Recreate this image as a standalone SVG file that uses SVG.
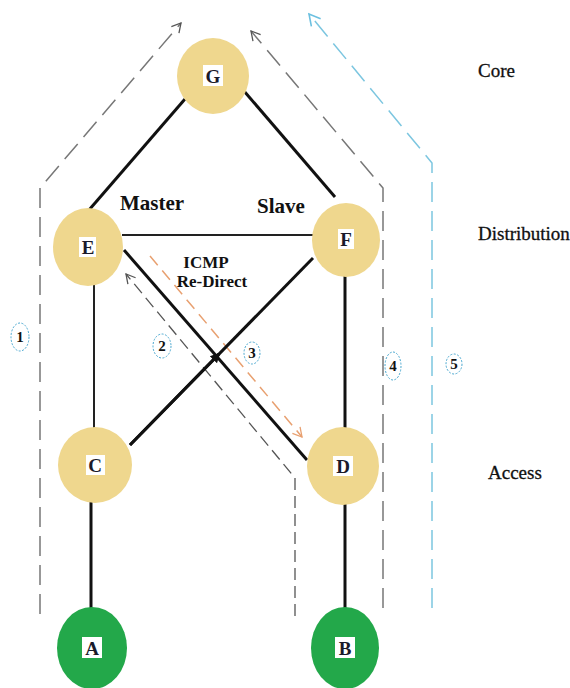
<svg xmlns="http://www.w3.org/2000/svg" width="570" height="688" viewBox="0 0 570 688">
<style>
.yel{fill:#EFD78E}
.grn{fill:#23A84A}
.lbl{font-family:"Liberation Serif",serif;font-weight:bold;font-size:19px;fill:#1a1a2a;text-anchor:middle}
.box{fill:#fff}
.edge{stroke:#111;stroke-width:3;fill:none}
.thin{stroke:#222;stroke-width:2;fill:none}
.gd{stroke:#777;stroke-width:1.5;fill:none;stroke-dasharray:20 9}
.bd{stroke:#7cc6e0;stroke-width:1.5;fill:none;stroke-dasharray:20 9}
.od{stroke:#e8a070;stroke-width:1.5;fill:none;stroke-dasharray:12 7}
.kd{stroke:#555;stroke-width:1.3;fill:none;stroke-dasharray:12 6}
.t{font-family:"Liberation Serif",serif;font-weight:bold;fill:#111}
.side{font-family:"Liberation Serif",serif;font-size:19px;fill:#111;stroke:#111;stroke-width:0.3}
.num{stroke:#4aa8d0;stroke-width:1;fill:none;stroke-dasharray:2 1.5}
.nt{font-family:"Liberation Serif",serif;font-weight:bold;font-size:15px;fill:#111;text-anchor:middle}
</style>
<defs>
<marker id="ag" markerWidth="12" markerHeight="12" refX="10" refY="6" orient="auto" markerUnits="userSpaceOnUse">
<path d="M1,1 L10,6 L1,11" stroke="#555" stroke-width="1.3" fill="none"/>
</marker>
<marker id="ab" markerWidth="14" markerHeight="14" refX="12" refY="7" orient="auto" markerUnits="userSpaceOnUse">
<path d="M1,1 L12,7 L1,13" stroke="#6cc0e0" stroke-width="1.6" fill="none"/>
</marker>
<marker id="ao" markerWidth="12" markerHeight="12" refX="10" refY="6" orient="auto" markerUnits="userSpaceOnUse">
<path d="M1,1 L10,6 L1,11" stroke="#e8a070" stroke-width="1.3" fill="none"/>
</marker>
<marker id="af" markerWidth="12" markerHeight="12" refX="8" refY="6" orient="auto" markerUnits="userSpaceOnUse">
<path d="M0,1 L10,6 L0,11 Z" fill="#111"/>
</marker>
</defs>

<g id="connectors">
<path class="gd" d="M40,614 L40,188 L181,23" marker-end="url(#ag)"/>
<path class="gd" d="M383,608 L383,188 L251,31" marker-end="url(#ag)"/>
<path class="bd" d="M432,608 L432,163 L309,14" marker-end="url(#ab)"/>
<path class="kd" d="M295,616 L295,478 L126,274" marker-end="url(#ag)"/>
<path class="od" d="M150,256 L302,437" marker-end="url(#ao)"/>
<line class="edge" x1="185" y1="99" x2="89" y2="210"/>
<line class="edge" x1="244" y1="91" x2="335" y2="197"/>
<line class="thin" x1="122" y1="235" x2="313" y2="235"/>
<line class="edge" x1="124" y1="250" x2="307" y2="460"/>
<line class="edge" x1="130" y1="445" x2="313" y2="258"/>
<line class="edge" x1="130" y1="445" x2="219" y2="354" marker-end="url(#af)"/>
<line class="thin" x1="94" y1="284" x2="94" y2="428"/>
<line class="edge" x1="345" y1="272" x2="345" y2="428"/>
<line class="edge" x1="91" y1="502" x2="91" y2="608"/>
<line class="edge" x1="345" y1="504" x2="345" y2="608"/>
</g>

<g id="node-G"><ellipse class="yel" cx="213" cy="76" rx="36" ry="38"/><rect class="box" x="203" y="65" width="20" height="21"/><text class="lbl" x="213" y="83">G</text></g>
<g id="node-E"><ellipse class="yel" cx="88" cy="247" rx="35" ry="39"/><rect class="box" x="79" y="237" width="17" height="20"/><text class="lbl" x="88" y="254">E</text></g>
<g id="node-F"><ellipse class="yel" cx="346" cy="240" rx="34" ry="37"/><rect class="box" x="338" y="229" width="16" height="20"/><text class="lbl" x="346" y="246">F</text></g>
<g id="node-C"><ellipse class="yel" cx="95" cy="465" rx="37" ry="38"/><rect class="box" x="86" y="455" width="19" height="20"/><text class="lbl" x="95" y="472">C</text></g>
<g id="node-D"><ellipse class="yel" cx="343" cy="466" rx="36" ry="39"/><rect class="box" x="333" y="456" width="20" height="20"/><text class="lbl" x="343" y="473">D</text></g>
<g id="node-A"><ellipse class="grn" cx="92" cy="648" rx="35" ry="41"/><rect class="box" x="82" y="637" width="20" height="21"/><text class="lbl" x="92" y="655">A</text></g>
<g id="node-B"><ellipse class="grn" cx="345" cy="648" rx="34" ry="41"/><rect class="box" x="335" y="637" width="20" height="21"/><text class="lbl" x="345" y="655">B</text></g>

<g id="labels">
<text class="t" x="120" y="210" font-size="21">Master</text>
<text class="t" x="257" y="213" font-size="21">Slave</text>
<text class="t" x="206" y="268" font-size="17" text-anchor="middle">ICMP</text>
<text class="t" x="212" y="287" font-size="17" text-anchor="middle">Re-Direct</text>
<text class="side" x="478" y="77">Core</text>
<text class="side" x="478" y="240">Distribution</text>
<text class="side" x="488" y="479">Access</text>
</g>

<g id="numbers">
<ellipse class="num" cx="20" cy="337" rx="9" ry="14"/><text class="nt" x="20" y="342">1</text>
<ellipse class="num" cx="162" cy="346" rx="9" ry="12"/><text class="nt" x="162" y="351">2</text>
<ellipse class="num" cx="252" cy="353" rx="8" ry="11"/><text class="nt" x="252" y="358">3</text>
<ellipse class="num" cx="393" cy="366" rx="8" ry="14"/><text class="nt" x="393" y="371">4</text>
<ellipse class="num" cx="454" cy="364" rx="8" ry="10"/><text class="nt" x="454" y="369">5</text>
</g>
</svg>
